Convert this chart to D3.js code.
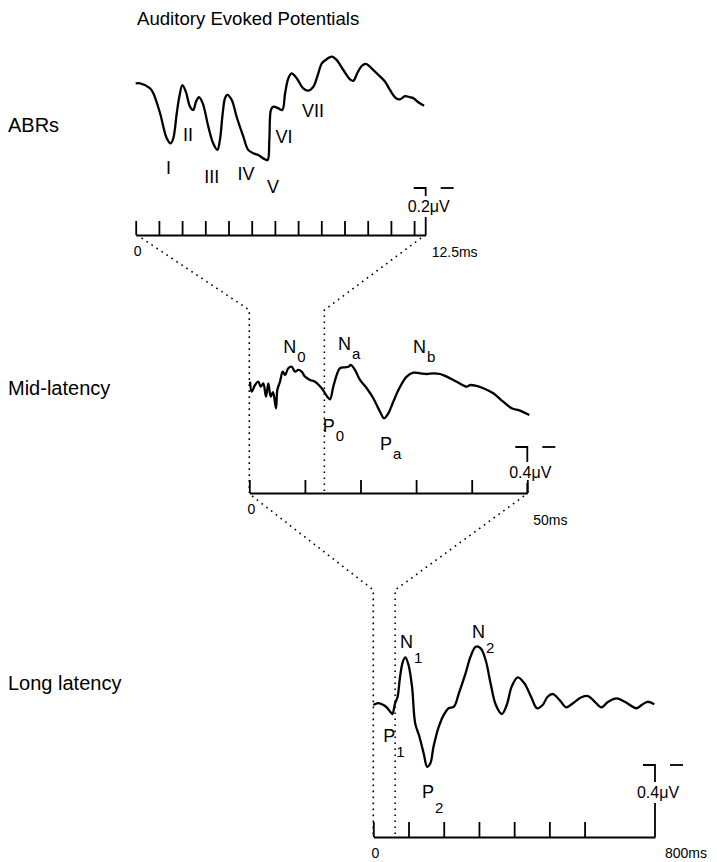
<!DOCTYPE html>
<meta charset="utf-8">
<script src="https://d3js.org/d3.v7.min.js"></script>
<style>
  body { margin: 0; background: #fff; }
  text { font-family: "Liberation Sans", Arial, Helvetica, sans-serif; fill: #000; }
</style>
<div id="chart"></div>
<script>

// ABR trace: time (ms), amplitude (uV)
const abrTime = [0, 0.19, 0.62, 0.76, 1.05, 1.34, 1.51, 1.62, 1.77, 1.88, 2.01, 2.16, 2.34, 2.48, 2.60, 2.73, 2.89, 3.13, 3.34, 3.52,
  3.63, 3.75, 3.85, 3.95, 4.14, 4.35, 4.64, 4.85, 5.07, 5.28, 5.57, 5.69, 5.76, 5.83, 5.93, 6.15, 6.32, 6.44, 6.58, 6.72,
  6.94, 7.22, 7.44, 7.66, 7.87, 8.02, 8.23, 8.45, 8.66, 8.95, 9.24, 9.38, 9.55, 9.74, 9.93, 10.17, 10.46, 10.75, 10.96, 11.22,
  11.39, 11.61, 11.82, 11.97, 12.18, 12.43];
const abrAmp = [0.326, 0.326, 0.305, 0.284, 0.199, 0.092, 0.071, 0.092, 0.199, 0.269, 0.319, 0.291, 0.227, 0.213, 0.248, 0.267, 0.241, 0.142, 0.071, 0.043,
  0.085, 0.199, 0.263, 0.277, 0.255, 0.184, 0.099, 0.043, 0.029, 0.021, 0.003, 0, 0.085, 0.213, 0.227, 0.220, 0.213, 0.284, 0.348, 0.369,
  0.348, 0.305, 0.295, 0.312, 0.369, 0.411, 0.429, 0.440, 0.426, 0.383, 0.343, 0.337, 0.369, 0.400, 0.409, 0.390, 0.362, 0.333, 0.298, 0.263,
  0.258, 0.272, 0.267, 0.263, 0.246, 0.231];

// mid-latency trace
const midTime = [0.13, 0.43, 1.03, 1.62, 2.05, 2.52, 3.00, 3.42, 3.85, 4.26, 4.80, 5.04, 5.52, 6.01, 6.42, 7.01, 7.63, 8.22, 8.81, 9.42,
  10.02, 10.92, 11.82, 13.02, 14.03, 14.51, 15.11, 15.83, 16.31, 17.21, 17.81, 18.29, 19.01, 19.91, 21.12, 22.30, 23.51, 24.23, 25.00, 25.90,
  26.98, 28.31, 29.50, 30.70, 31.91, 33.09, 34.30, 35.50, 37.30, 39.10, 39.69, 40.90, 42.09, 43.88, 45.68, 47.19, 48.69, 50.36];
const midAmp = [0.333, 0.246, 0.304, 0.333, 0.290, 0.319, 0.203, 0.319, 0.203, 0.243, 0.102, 0.261, 0.333, 0.420, 0.391, 0.450, 0.463, 0.420, 0.435, 0.420,
  0.377, 0.348, 0.333, 0.276, 0.203, 0.180, 0.290, 0.406, 0.450, 0.458, 0.463, 0.478, 0.435, 0.348, 0.276, 0.189, 0.072, 0.015, 0.058, 0.159,
  0.276, 0.377, 0.411, 0.406, 0.400, 0.406, 0.400, 0.377, 0.333, 0.290, 0.304, 0.296, 0.276, 0.232, 0.159, 0.102, 0.081, 0.043];

// long latency trace
const longTime = [0, 14, 29, 38, 48, 54, 62, 69, 76, 84, 91, 100, 110, 119, 131, 143, 153, 162, 171, 186,
  200, 214, 229, 243, 262, 276, 291, 305, 319, 333, 348, 365, 379, 393, 410, 429, 448, 465, 481, 495,
  510, 529, 548, 567, 591, 610, 629, 648, 667, 691, 714, 748, 762, 779, 798];
const longAmp = [0.361, 0.371, 0.361, 0.348, 0.324, 0.311, 0.371, 0.407, 0.518, 0.602, 0.626, 0.583, 0.463, 0.259, 0.185, 0.093, 0.018, 0.037, 0.129, 0.241,
  0.306, 0.343, 0.352, 0.426, 0.537, 0.629, 0.685, 0.676, 0.611, 0.482, 0.361, 0.311, 0.361, 0.463, 0.515, 0.482, 0.407, 0.343, 0.361, 0.407,
  0.422, 0.389, 0.348, 0.371, 0.404, 0.411, 0.379, 0.348, 0.379, 0.398, 0.379, 0.343, 0.361, 0.379, 0.365];

// peak labels
const abrPeakName = ["I", "II", "III", "IV", "V", "VI", "VII"];
const abrPeakTime = [1.41, 2.25, 3.28, 4.75, 5.92, 6.39, 7.64];
const abrPeakAmp = [-0.060, 0.081, -0.098, -0.085, -0.140, 0.072, 0.183];

const midPeakName = ["N", "N", "N", "P", "P"];
const midPeakSub = ["0", "a", "b", "0", "a"];
const midPeakTime = [6.12, 15.95, 29.44, 13.20, 23.51];
const midPeakAmp = [0.583, 0.609, 0.583, -0.102, -0.261];

const longPeakName = ["N", "N", "P", "P"];
const longPeakSub = ["1", "2", "1", "2"];
const longPeakTime = [76, 280, 28, 138];
const longPeakAmp = [0.678, 0.733, 0.156, -0.156];

// time axes
const abrTicks = d3.range(0, 13, 1);
const midTicks = [0, 10, 20, 30, 40, 50];
const longTicks = [0, 100, 200, 300, 400, 500, 600];
const spans = [12.5, 50, 800];
const spanLabels = ["12.5ms", "50ms", "800ms"];
const barValues = [0.2, 0.4, 0.4];
const barLabels = ["0.2μV", "0.4μV", "0.4μV"];
const rowNames = ["ABRs", "Mid-latency", "Long latency"];

const W = 717, H = 862;

const svg = d3.select("#chart")
  .append("svg")
  .attr("width", W)
  .attr("height", H);

svg.append("rect").attr("width", W).attr("height", H).attr("fill", "#fff");

svg.append("text")
  .attr("x", 137).attr("y", 25)
  .style("font-size", "18.6px")
  .text("Auditory Evoked Potentials");

// layout of the three rows
const layout = [
  { x0: 135.7, x1: 425.7, axisY: 235, zeroY: 160, k: 235, tickLen: 14, nameY: 132, endDx: 6, endDy: 22, barTextDy: 24, subDy: 0 },
  { x0: 249.3, x1: 527.3, axisY: 493, zeroY: 420, k: 115, tickLen: 13, nameY: 395, endDx: 6, endDy: 32, barTextDy: 31, subDy: 8 },
  { x0: 373.3, x1: 655, axisY: 837, zeroY: 770, k: 180, tickLen: 15, nameY: 690, endDx: 10, endDy: 21, barTextDy: 33, subDy: 14 }
];

const traces = [
  { time: abrTime, amp: abrAmp, ticks: abrTicks },
  { time: midTime, amp: midAmp, ticks: midTicks },
  { time: longTime, amp: longAmp, ticks: longTicks }
];

const xs = [], ys = [];

layout.forEach(function (L, i) {
  const x = d3.scaleLinear().domain([0, spans[i]]).range([L.x0, L.x1]);
  const y = d3.scaleLinear().domain([0, 1]).range([L.zeroY, L.zeroY - L.k]);
  xs.push(x); ys.push(y);

  // row name
  svg.append("text")
    .attr("x", 8).attr("y", L.nameY)
    .style("font-size", "20px")
    .text(rowNames[i]);

  // time axis, ticks pointing up
  const g = svg.append("g")
    .attr("transform", `translate(0, ${L.axisY})`)
    .call(d3.axisTop(x).tickValues(traces[i].ticks).tickSize(L.tickLen).tickSizeOuter(0).tickFormat(""));
  g.selectAll("path, line").attr("stroke", "#000").attr("stroke-width", 1.8);

  svg.append("text")
    .attr("x", x(0) + 2).attr("y", L.axisY + 21)
    .attr("text-anchor", "middle")
    .style("font-size", "14px")
    .text("0");

  svg.append("text")
    .attr("x", x(spans[i]) + L.endDx).attr("y", L.axisY + L.endDy)
    .style("font-size", "14px")
    .text(spanLabels[i]);

  // voltage scale bar at the right end of the axis
  const bx = x(spans[i]);
  const top = L.axisY - barValues[i] * L.k;
  const ty = top + L.barTextDy;
  const bar = svg.append("g").attr("stroke", "#000").attr("stroke-width", 1.8).attr("fill", "none");
  bar.append("path").attr("d", `M${bx - 12},${top} H${bx} V${ty - 16}`);
  bar.append("path").attr("d", `M${bx},${ty + 5} V${L.axisY}`);
  bar.append("path").attr("d", `M${bx + 15},${top} H${bx + 28}`);
  svg.append("text")
    .attr("x", bx + 3).attr("y", ty)
    .attr("text-anchor", "middle")
    .style("font-size", "16px")
    .text(barLabels[i]);

  // waveform
  const pts = traces[i].time.map((t, j) => [t, traces[i].amp[j]]);
  svg.append("path")
    .datum(pts)
    .attr("fill", "none")
    .attr("stroke", "#000")
    .attr("stroke-width", 2.3)
    .attr("stroke-linejoin", "round")
    .attr("d", d3.line().x(d => x(d[0])).y(d => y(d[1])).curve(d3.curveCatmullRom.alpha(0.5)));
});

// ABR roman numeral labels
svg.selectAll(".abrlab")
  .data(abrPeakName)
  .join("text")
  .attr("class", "abrlab")
  .attr("x", (d, j) => xs[0](abrPeakTime[j]))
  .attr("y", (d, j) => ys[0](abrPeakAmp[j]))
  .attr("text-anchor", "middle")
  .style("font-size", "18px")
  .text(d => d);

// N / P labels with subscripts
function subLabels(names, subs, times, amps, i) {
  names.forEach(function (n, j) {
    const t = svg.append("text")
      .attr("x", xs[i](times[j]))
      .attr("y", ys[i](amps[j]))
      .style("font-size", "18px")
      .text(n);
    t.append("tspan")
      .attr("dx", 1)
      .attr("dy", layout[i].subDy + 1)
      .style("font-size", "15px")
      .text(subs[j]);
  });
}
subLabels(midPeakName, midPeakSub, midPeakTime, midPeakAmp, 1);
subLabels(longPeakName, longPeakSub, longPeakTime, longPeakAmp, 2);

// dotted zoom lines between rows
const zooms = [
  { from: 0, to: 1, a: [0.25, 12.3], b: [0, 13.5], midY: 310 },
  { from: 1, to: 2, a: [0.5, 49.4], b: [0, 62], midY: 590 }
];
zooms.forEach(function (z) {
  [0, 1].forEach(function (k) {
    const p = [
      [xs[z.from](z.a[k]), layout[z.from].axisY + 3],
      [xs[z.to](z.b[k]), z.midY],
      [xs[z.to](z.b[k]), layout[z.to].axisY]
    ];
    svg.append("path")
      .attr("d", d3.line()(p))
      .attr("fill", "none")
      .attr("stroke", "#000")
      .attr("stroke-width", 1.6)
      .attr("stroke-dasharray", "1.6 4.4");
  });
});

</script>
